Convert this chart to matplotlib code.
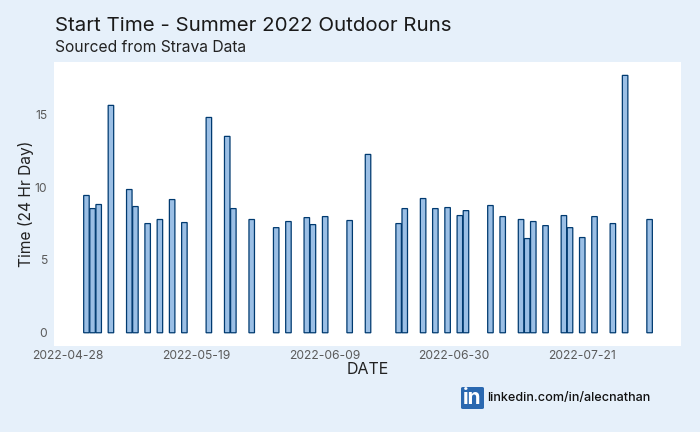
import pandas as pd
import matplotlib.dates as mdates
import matplotlib.pyplot as plt
from matplotlib.patches import FancyBboxPatch

dates = ['2022-05-01', '2022-05-02', '2022-05-03', '2022-05-05', '2022-05-08', '2022-05-09',
	'2022-05-11', '2022-05-13', '2022-05-15', '2022-05-17', '2022-05-21', '2022-05-24',
	'2022-05-25', '2022-05-28', '2022-06-01', '2022-06-03', '2022-06-06', '2022-06-07',
	'2022-06-09', '2022-06-13', '2022-06-16', '2022-06-21', '2022-06-22', '2022-06-25',
	'2022-06-27', '2022-06-29', '2022-07-01', '2022-07-02', '2022-07-06', '2022-07-08',
	'2022-07-11', '2022-07-12', '2022-07-13', '2022-07-15', '2022-07-18', '2022-07-19',
	'2022-07-21', '2022-07-23', '2022-07-26', '2022-07-28', '2022-08-01']
start_time = [9.43, 8.53, 8.81, 15.62, 9.84, 8.67, 7.5, 7.78, 9.15, 7.57, 14.79, 13.49,
	8.53, 7.78, 7.22, 7.64, 7.91, 7.43, 7.98, 7.71, 12.25, 7.5, 8.53, 9.22,
	8.53, 8.6, 8.05, 8.39, 8.74, 7.98, 7.78, 6.47, 7.64, 7.36, 8.05, 7.22,
	6.54, 7.98, 7.5, 17.68, 7.78]
x_ticks = ['2022-04-28', '2022-05-19', '2022-06-09', '2022-06-30', '2022-07-21']
y_ticks = [0, 5, 10, 15]

bg = '#e6f0fa'
font = 'Inter'
plt.rcParams['font.family'] = font

W, H = 700, 432
fig = plt.figure(figsize=(W / 100, H / 100), dpi=100, facecolor=bg)
ax = fig.add_axes([54 / W, 1 - 346 / H, 627 / W, 284 / H])

x = pd.to_datetime(dates)
ax.bar(x, start_time, width=0.9, color='#9bbfe5', edgecolor='#003a70', linewidth=0.9, snap=False)

ax.set_xlim(mdates.date2num(pd.Timestamp('2022-05-01')) - 5.3,
	mdates.date2num(pd.Timestamp('2022-05-01')) + 97.13)
ax.set_ylim(-0.91, 18.6)
ax.set_xticks(pd.to_datetime(x_ticks))
ax.set_xticklabels(x_ticks)
ax.set_yticks(y_ticks)
ax.tick_params(length=0, labelsize=8.7, labelcolor='#5a5a5a')
ax.tick_params(axis='x', pad=3)
ax.tick_params(axis='y', pad=5)
for s in ax.spines.values():
	s.set_visible(False)

ax.set_xlabel('DATE', fontsize=11.5, color='#222222', labelpad=0)
ax.set_ylabel('Time (24 Hr Day)', fontsize=11.2, color='#222222')
ax.yaxis.set_label_coords((34 - 54) / 627, 0.5)

fig.text(55 / W, 1 - 26 / H, 'Start Time - Summer 2022 Outdoor Runs', fontsize=14.75,
	color='#1a1a1a', va='center')
fig.text(55 / W, 1 - 48 / H, 'Sourced from Strava Data', fontsize=11.25,
	color='#222222', va='center')

# linkedin badge
fig.add_artist(FancyBboxPatch((461 / W, 1 - 409 / H), 23 / W, 22 / H, transform=fig.transFigure,
	boxstyle='round,pad=0,rounding_size=0.003', facecolor='#2a68b0', edgecolor='none'))
fig.text(472.5 / W, 1 - 398 / H, 'in', fontsize=15, fontweight='bold', color='white',
	ha='center', va='center')
fig.text(487 / W, 1 - 398 / H, 'linkedin.com/in/alecnathan', fontsize=9.1, fontweight='medium',
	color='#111111', va='center')

fig.savefig('out.png', dpi=100, facecolor=bg)
